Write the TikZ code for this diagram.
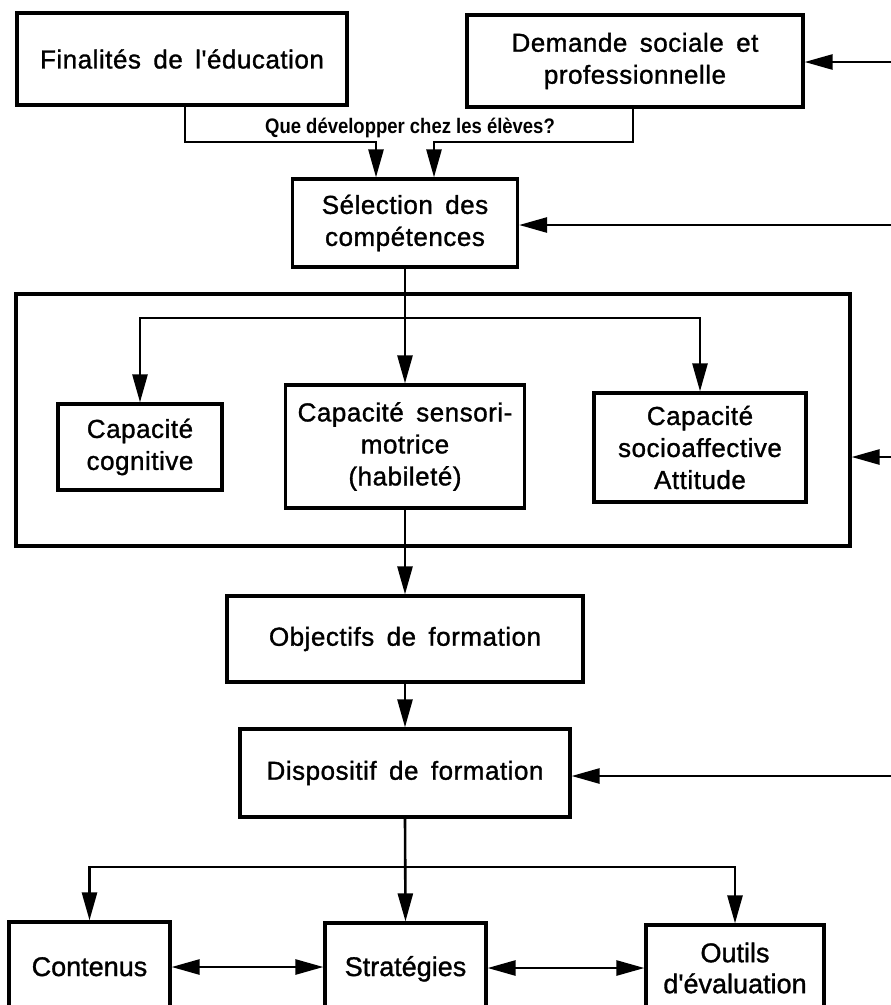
\documentclass[tikz,border=0pt]{standalone}
\usepackage{fontspec}
\setmainfont{Liberation Sans}
\newfontfamily\boxfont{Liberation Sans}[LetterSpace=2,WordSpace=1.6,FakeBold=1.2]
\newfontfamily\rowfont{Liberation Sans}[FakeBold=1.2]
\newfontfamily\notefont{Liberation Sans Bold}[FakeStretch=0.88]
\usetikzlibrary{arrows.meta}

\begin{document}
\begin{tikzpicture}[x=1pt,y=-1pt,
  box/.style={draw,line width=3.2pt,rectangle,inner sep=0pt,align=center,
    font=\boxfont\fontsize{26}{32}\selectfont},
  rowtext/.style={inner sep=0pt,align=center,font=\rowfont\fontsize{27}{31}\selectfont},
  note/.style={inner sep=0pt,font=\notefont\fontsize{21}{24}\selectfont},
  arr/.style={line width=2.6pt,-{Triangle[length=28pt,width=15pt]}},
  darr/.style={line width=2.6pt,{Triangle[length=28pt,width=15pt]}-{Triangle[length=28pt,width=15pt]}}
]
\useasboundingbox (0,0) rectangle (891,1005);
\fill[white] (0,0) rectangle (891,1005);
\clip (0,0) rectangle (891,1005);

% top sources
\node[box,minimum width=330pt,minimum height=92pt] (fin) at (182,59) {Finalités de l'éducation};
\node[box,minimum width=336pt,minimum height=92pt] (dem) at (635,61) {Demande sociale et\\professionnelle};
\node[box,minimum width=225pt,minimum height=88pt] (sel) at (405,223) {Sélection des\\compétences};

% group of capacities
\node[box,minimum width=834pt,minimum height=252pt] (grp) at (433,420) {};
\node[box,minimum width=164pt,minimum height=86pt] (cog) at (140,447) {Capacité\\cognitive};
\node[box,minimum width=239pt,minimum height=123pt] (sen) at (405,446.5) {Capacité sensori-\\motrice\\(habileté)};
\node[box,minimum width=212pt,minimum height=109pt] (soc) at (700,447.5) {Capacité\\socioaffective\\Attitude};

% objectives and set-up
\node[box,minimum width=356pt,minimum height=86pt] (obj) at (405,639) {Objectifs de formation};
\node[box,minimum width=330pt,minimum height=88pt] (dis) at (405,773) {Dispositif de formation};

% bottom row (boxes run past the lower edge)
\node[box,minimum width=161pt,minimum height=90pt] (con) at (89.5,967) {};
\node[box,minimum width=161pt,minimum height=90pt] (str) at (405.5,968) {};
\node[box,minimum width=178pt,minimum height=86pt] (out) at (735,968) {};
\node[rowtext,anchor=base] (con-t) at (89.5,976) {Contenus};
\node[rowtext,anchor=base] (str-t) at (405.5,976) {Stratégies};
\node[rowtext] (out-t) at (735,968) {Outils\\d'évaluation};

% question joining the two sources
\node[note,anchor=base] (ask) at (410,133) {Que développer chez les élèves?};
\coordinate (fx) at (185,142);
\coordinate (fy) at (376,142);
\coordinate (dx) at (633,142);
\coordinate (dy) at (434,142);
\draw[arr] (fin.south -| fx) -- (fx) -- (fy) -- (fy |- sel.north);
\draw[arr] (dem.south -| dx) -- (dx) -- (dy) -- (dy |- sel.north);

% main spine and branches
\coordinate (sp) at (405,318);
\draw[arr] (sel.south) -- (sen.north);
\draw[arr] (sp) -| (cog.north);
\draw[arr] (sp) -| (soc.north);
\draw[arr] (sen.south) -- (obj.north);
\draw[arr] (obj.south) -- (dis.north);
\draw[arr] (dis.south) -- (str.north);
\coordinate (bp) at (405,867);
\draw[arr] (bp) -| (con.north);
\draw[arr] (bp) -| (out.north);

% links between the bottom boxes
\draw[darr] (con.east) -- (con.east -| str.west);
\draw[darr] (str.east) -- (str.east -| out.west);

% incoming arrows from the right
\coordinate (e1) at (891,62);
\coordinate (e2) at (891,225);
\coordinate (e3) at (891,457);
\coordinate (e4) at (891,776);
\draw[arr] (e1) -- (e1 -| dem.east);
\draw[arr] (e2) -- (e2 -| sel.east);
\draw[arr] (e3) -- (e3 -| grp.east);
\draw[arr] (e4) -- (e4 -| dis.east);
\end{tikzpicture}
\end{document}
